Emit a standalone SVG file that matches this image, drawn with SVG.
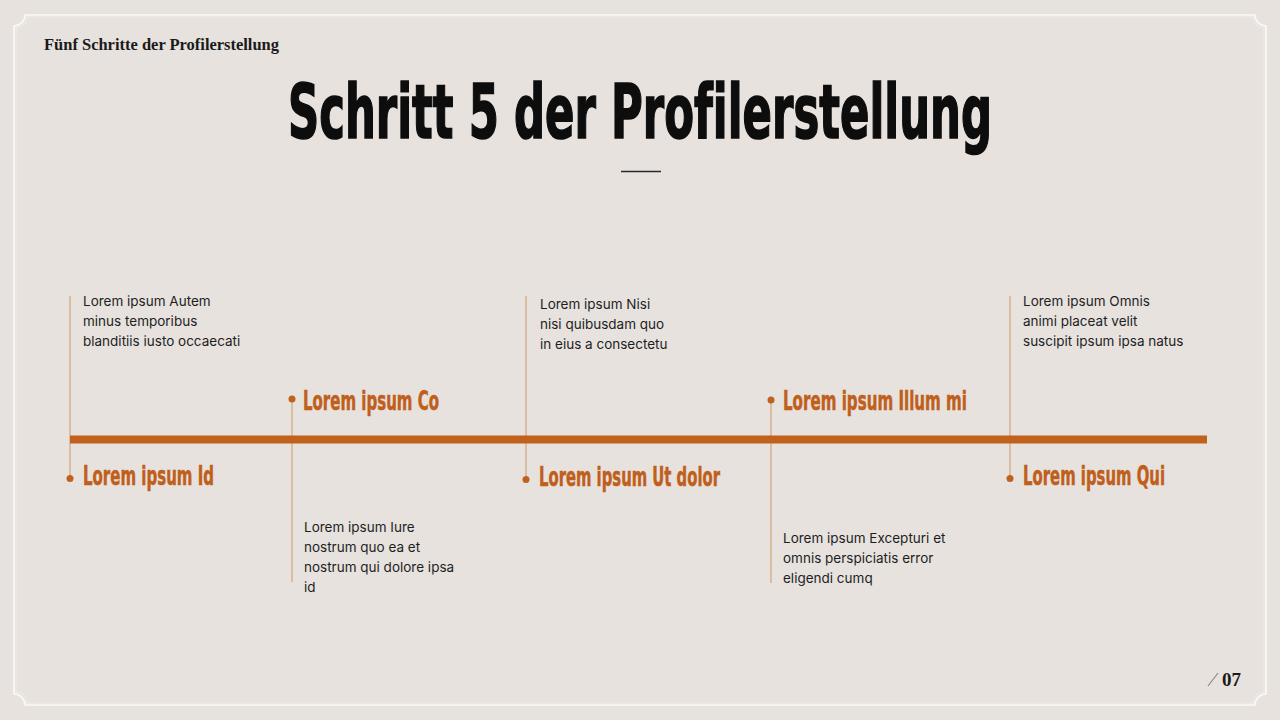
<svg xmlns="http://www.w3.org/2000/svg" width="1280" height="720" viewBox="0 0 1280 720">
<style>
text{font-variant-ligatures:none}
.hdr{font-family:"Liberation Serif","DejaVu Serif",serif;font-weight:700;font-size:16px;fill:#1a1a1a}
.ttl{font-family:"DejaVu Sans","Liberation Sans",sans-serif;font-weight:700;font-stretch:condensed;font-size:75px;fill:#0d0d0d;stroke:#0d0d0d;stroke-width:1.6}
.lbl{font-family:"DejaVu Sans","Liberation Sans",sans-serif;font-weight:700;font-stretch:condensed;font-size:26px;fill:#BF5F1B;stroke:#BF5F1B;stroke-width:0.5}
.body{font-family:Inter,"Noto Sans",sans-serif;font-size:13.5px;fill:#1e1e1e}
.stem{stroke:#D8B592;stroke-width:1.6;fill:none}
.dot{fill:#C0621F}
.pg{font-family:"Liberation Serif",serif;font-size:19px;font-weight:700;fill:#1a1a1a}
</style>
<rect width="1280" height="720" fill="#E7E2DE"/>
<path d="M25,15 H1255 A11,11 0 0 0 1266,26 V694 A11,11 0 0 0 1255,705 H25 A11,11 0 0 0 14,694 V26 A11,11 0 0 0 25,15 Z" fill="none" stroke="#FBFAF8" stroke-width="1.6"/>
<path d="M27,17 H1253 A11,11 0 0 0 1264,28 V692 A11,11 0 0 0 1253,703 H27 A11,11 0 0 0 16,692 V28 A11,11 0 0 0 27,17 Z" fill="none" stroke="#F3F0EC" stroke-width="0.8"/>
<text class="hdr" x="44" y="50" textLength="235" lengthAdjust="spacingAndGlyphs">Fünf Schritte der Profilerstellung</text>
<text class="ttl" x="288" y="138" textLength="704" lengthAdjust="spacingAndGlyphs">Schritt 5 der Profilerstellung</text>
<line x1="621" y1="171.5" x2="661" y2="171.5" stroke="#2a2a2a" stroke-width="1.5"/>
<g id="connectors">
<line class="stem" x1="70" y1="296" x2="70" y2="478"/>
<line class="stem" x1="292" y1="399" x2="292" y2="582"/>
<line class="stem" x1="526" y1="296" x2="526" y2="479"/>
<line class="stem" x1="771" y1="400" x2="771" y2="583"/>
<line class="stem" x1="1010" y1="296" x2="1010" y2="478"/>
<rect x="70" y="435.5" width="1137" height="8" fill="#C0611C"/>
</g>
<g id="node1">
<circle class="dot" cx="70" cy="478.5" r="3.5"/>
<text class="body" x="83" y="306">Lorem ipsum Autem</text>
<text class="body" x="83" y="326">minus temporibus</text>
<text class="body" x="83" y="346">blanditiis iusto occaecati</text>
<text class="lbl" x="83" y="485" textLength="131" lengthAdjust="spacingAndGlyphs">Lorem ipsum Id</text>
</g>
<g id="node2">
<circle class="dot" cx="292" cy="399" r="3.5"/>
<text class="lbl" x="303" y="410" textLength="136" lengthAdjust="spacingAndGlyphs">Lorem ipsum Co</text>
<text class="body" x="304" y="532">Lorem ipsum Iure</text>
<text class="body" x="304" y="552">nostrum quo ea et</text>
<text class="body" x="304" y="572">nostrum qui dolore ipsa</text>
<text class="body" x="304" y="592">id</text>
</g>
<g id="node3">
<circle class="dot" cx="526" cy="479.5" r="3.5"/>
<text class="body" x="540" y="309">Lorem ipsum Nisi</text>
<text class="body" x="540" y="329">nisi quibusdam quo</text>
<text class="body" x="540" y="349">in eius a consectetu</text>
<text class="lbl" x="539" y="486" textLength="181" lengthAdjust="spacingAndGlyphs">Lorem ipsum Ut dolor</text>
</g>
<g id="node4">
<circle class="dot" cx="771" cy="400" r="3.5"/>
<text class="lbl" x="783" y="410" textLength="184" lengthAdjust="spacingAndGlyphs">Lorem ipsum Illum mi</text>
<text class="body" x="783" y="543">Lorem ipsum Excepturi et</text>
<text class="body" x="783" y="563">omnis perspiciatis error</text>
<text class="body" x="783" y="583">eligendi cumq</text>
</g>
<g id="node5">
<circle class="dot" cx="1010" cy="478.5" r="3.5"/>
<text class="body" x="1023" y="306">Lorem ipsum Omnis</text>
<text class="body" x="1023" y="326">animi placeat velit</text>
<text class="body" x="1023" y="346">suscipit ipsum ipsa natus</text>
<text class="lbl" x="1023" y="485" textLength="142" lengthAdjust="spacingAndGlyphs">Lorem ipsum Qui</text>
</g>
<line x1="1208" y1="686" x2="1218" y2="673" stroke="#8a8683" stroke-width="1.2"/>
<text class="pg" x="1222" y="686">07</text>
</svg>
